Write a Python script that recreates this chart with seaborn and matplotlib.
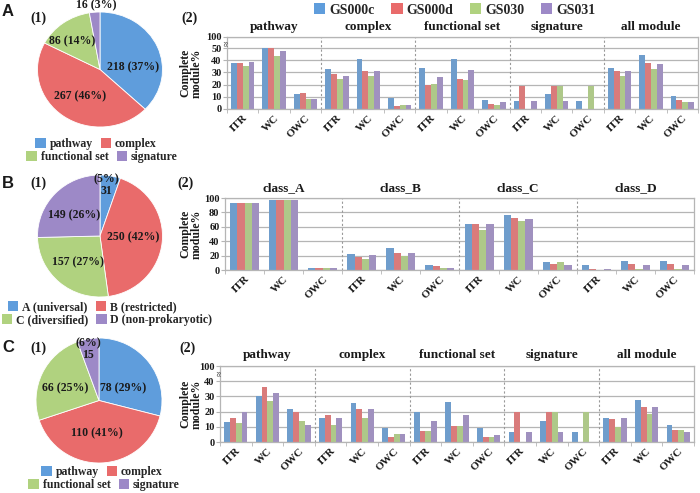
import numpy as np
import pandas as pd
import matplotlib
matplotlib.use("Agg")
import matplotlib.pyplot as plt
import matplotlib.transforms as mtransforms
from matplotlib.patches import Patch
import seaborn as sns

# ---------------- data ----------------
series = ["GS000c", "GS000d", "GS030", "GS031"]
clusters = ["ITR", "WC", "OWC"]

groups_a = ["pathway", "complex", "functional set", "signature", "all module"]
a_gs000c = [38, 50, 12, 32.5, 41, 9, 34, 41, 7, 6.5, 12.5, 6.5, 34, 44, 10.5]
a_gs000d = [37.5, 51, 13.5, 28.5, 31.5, 2.5, 20, 24.5, 4.5, 19, 19, 0, 31, 38, 7]
a_gs030 = [35, 43.5, 8.5, 24.5, 27.5, 3, 20.5, 23.5, 3.5, 0, 19, 19, 27, 33, 5.5]
a_gs031 = [39, 48, 8, 27.5, 31, 3.5, 26, 32, 6, 6.5, 6.5, 0, 31.5, 37, 5.5]

groups_b = ["class_A", "class_B", "class_C", "class_D"]
b_gs000c = [93, 97, 3, 22.5, 30.5, 7.5, 64.5, 77, 11.5, 7.5, 12.5, 12.5]
b_gs000d = [93, 97, 3, 18.5, 24, 5.5, 64.5, 72.5, 8, 1, 9, 9]
b_gs030 = [93, 97, 3, 15.5, 20, 3, 56, 67.5, 11.5, 0, 1.5, 1.5]
b_gs031 = [93, 97, 3, 20.5, 23.5, 3, 63.5, 71, 7.5, 1, 6.5, 6.5]

groups_c = ["pathway", "complex", "functional set", "signature", "all module"]
c_gs000c = [13, 30, 22, 16, 25.5, 9, 20, 26, 9, 6.5, 13.5, 6.5, 16, 27.5, 11.5]
c_gs000d = [15.5, 36, 20, 18, 22, 3.5, 7.5, 10.5, 3, 20, 20, 0, 15, 23, 8]
c_gs030 = [12.5, 27, 14, 11, 16, 5.5, 7.5, 10.5, 3, 0, 20, 20, 10, 18.5, 8]
c_gs031 = [20, 32, 11.5, 16, 22, 5.5, 13.5, 18, 4.5, 6.5, 6.5, 0, 16, 23, 6.5]

pie_a_labels = ["pathway", "complex", "functional set", "signature"]
pie_a_counts = [218, 267, 86, 16]
pie_a_pct = [37, 46, 14, 3]

pie_b_labels = ["A (universal)", "B (restricted)", "C (diversified)", "D (non-prokaryotic)"]
pie_b_counts = [31, 250, 157, 149]
pie_b_pct = [5, 42, 27, 26]

pie_c_labels = ["pathway", "complex", "functional set", "signature"]
pie_c_counts = [78, 110, 66, 15]
pie_c_pct = [29, 41, 25, 6]

# ---------------- style ----------------
sns.set_style("white")
plt.rcParams["font.family"] = ["Liberation Serif", "DejaVu Serif"]
plt.rcParams["font.weight"] = "bold"

colors = ["#5F9DDC", "#E96B6B", "#B0D27F", "#9D89C7"]
GRID = "#B5B5B5"
TXT = "#1a1a1a"

W, H = 700, 493
fig = plt.figure(figsize=(7.0, 4.93), dpi=100)


def fx(px):
    return px / W


def fy(py):
    return 1 - py / H


def rect(l, t, r, b):
    return [fx(l), fy(b), fx(r) - fx(l), (b - t) / H]


def bar_panel(box, groups, vals, yticks, ylabels, fwd=None, inv=None, ylab_x=-0.05,
              break_at=None):
    ax = fig.add_axes(box)
    keys = [f"{g}|{c}" for g in groups for c in clusters]
    rows = []
    for s, v in zip(series, vals):
        for k, val in zip(keys, v):
            rows.append({"key": k, "value": val, "series": s})
    df = pd.DataFrame(rows)
    sns.barplot(data=df, x="key", y="value", hue="series", order=keys,
                hue_order=series, palette=colors, width=0.74, errorbar=None,
                linewidth=0, legend=False, ax=ax)
    if fwd is not None:
        ax.set_yscale("function", functions=(fwd, inv))
    ax.set_ylim(0, 100)
    ax.set_xlim(-0.5, len(keys) - 0.5)
    ax.set_yticks(yticks)
    ax.set_yticklabels(ylabels, fontsize=7.5, fontweight="bold", color=TXT)
    ax.set_axisbelow(True)
    ax.yaxis.grid(True, color=GRID, lw=0.9)
    ax.xaxis.grid(False)
    ax.set_xticks(range(len(keys)))
    ax.set_xticklabels(clusters * len(groups), rotation=45, ha="right",
                       rotation_mode="anchor", fontsize=8, fontweight="bold", color=TXT)
    ax.set_xticks(np.arange(len(keys) + 1) - 0.5, minor=True)
    ax.tick_params(axis="x", which="major", length=0, pad=3)
    ax.tick_params(axis="x", which="minor", bottom=True, length=3, color=GRID)
    ax.tick_params(axis="y", left=True, length=3, color=GRID, pad=1)
    for sp in ax.spines.values():
        sp.set_color(GRID)
        sp.set_linewidth(0.9)
    ax.set_xlabel("")
    ax.set_ylabel("Complete\nmodule%", fontsize=8.5, fontweight="bold", color=TXT,
                  linespacing=0.9)
    ax.yaxis.set_label_coords(ylab_x, 0.5)
    trans = mtransforms.blended_transform_factory(ax.transData, ax.transAxes)
    for i, g in enumerate(groups):
        if i > 0:
            ax.axvline(i * 3 - 0.5, color="#999999", lw=0.8, ls=(0, (2, 2)))
        ax.text(i * 3 + 1, 1.06, g, transform=trans, ha="center", va="bottom",
                fontsize=9.5, fontweight="bold", color=TXT)
    if break_at is not None:
        ax.text(0.0, break_at, "≈", transform=mtransforms.blended_transform_factory(
            ax.transAxes, ax.transData), rotation=90, ha="center", va="center",
            fontsize=7, color="#555555")
    return ax


def pie_panel(box, counts, pcts, lab_pos):
    ax = fig.add_axes(box)
    wedges, _ = ax.pie(counts, colors=colors, startangle=90, counterclock=False,
                       wedgeprops=dict(linewidth=0.6, edgecolor="white"))
    ax.set_xlim(-1, 1)
    ax.set_ylim(-1, 1)
    ax.set_aspect("auto")
    for c, p, (x, y, two) in zip(counts, pcts, lab_pos):
        s = f"({p}%)\n{c}" if two else f"{c} ({p}%)"
        ax.text(x, y, s, ha="center", va="center", fontsize=8.5, fontweight="bold",
                color=TXT, linespacing=0.95)
    return ax


def pie_legend(labels, idx, cx, cy):
    handles = [Patch(facecolor=colors[i], edgecolor="none") for i in idx]
    fig.legend(handles, [labels[i] for i in idx], loc="center",
               bbox_to_anchor=(fx(cx), fy(cy)), ncol=2, frameon=False,
               handlelength=0.9, handleheight=0.9, handletextpad=0.3,
               columnspacing=0.7, borderpad=0, borderaxespad=0,
               prop={"size": 8.5, "weight": "bold"})


def fwd_a(y):
    y = np.asarray(y, dtype=float)
    return np.where(y <= 50, y, 50 + (y - 50) * 0.183)


def inv_a(t):
    t = np.asarray(t, dtype=float)
    return np.where(t <= 50, t, 50 + (t - 50) / 0.183)


def fwd_c(y):
    y = np.asarray(y, dtype=float)
    return np.where(y <= 40, y, 40 + (y - 40) / 6.0)


def inv_c(t):
    t = np.asarray(t, dtype=float)
    return np.where(t <= 40, t, 40 + (t - 40) * 6.0)


# ---------------- panel A ----------------
pie_panel(rect(37.5, 12, 162.5, 127), pie_a_counts, pie_a_pct,
          [(0.53, 0.03, False), (-0.32, -0.47, False), (-0.45, 0.49, False),
           (-0.06, 1.11, False)])
pie_legend(pie_a_labels, [0, 1], 96, 144)
pie_legend(pie_a_labels, [2, 3], 102, 157)
bar_panel(rect(227, 37, 698, 109), groups_a, [a_gs000c, a_gs000d, a_gs030, a_gs031],
          [0, 10, 20, 30, 40, 50, 100], ["0", "10", "20", "30", "40", "50", "100"],
          fwd_a, inv_a, ylab_x=-0.052, break_at=70)

# ---------------- panel B ----------------
pie_panel(rect(37.5, 175, 162.5, 297), pie_b_counts, pie_b_pct,
          [(0.11, 0.84, True), (0.53, -0.02, False), (-0.35, -0.43, False),
           (-0.42, 0.34, False)])
pie_legend(pie_b_labels, [0, 1], 92, 307)
pie_legend(pie_b_labels, [2, 3], 107, 320)
bar_panel(rect(225, 198, 694, 270), groups_b, [b_gs000c, b_gs000d, b_gs030, b_gs031],
          [0, 20, 40, 60, 80, 100], ["0", "20", "40", "60", "80", "100"],
          ylab_x=-0.047)

# ---------------- panel C ----------------
pie_panel(rect(36, 338, 162, 463), pie_c_counts, pie_c_pct,
          [(0.38, 0.19, False), (-0.03, -0.53, False), (-0.54, 0.19, False),
           (-0.17, 0.82, True)])
pie_legend(pie_c_labels, [0, 1], 102, 472)
pie_legend(pie_c_labels, [2, 3], 104, 485)
bar_panel(rect(220, 366, 694, 442), groups_c, [c_gs000c, c_gs000d, c_gs030, c_gs031],
          [0, 10, 20, 30, 40, 100], ["0", "10", "20", "30", "40", "100"],
          fwd_c, inv_c, ylab_x=-0.036, break_at=70)

# ---------------- top legend ----------------
fig.legend([Patch(facecolor=c, edgecolor="none") for c in colors], series,
           loc="center", bbox_to_anchor=(fx(455), fy(10)), ncol=4, frameon=False,
           handlelength=0.8, handleheight=0.8, handletextpad=0.3, columnspacing=1.2,
           borderpad=0, borderaxespad=0, prop={"size": 10, "weight": "bold"})

# ---------------- panel letters ----------------
for letter, y in [("A", 12), ("B", 183), ("C", 348)]:
    fig.text(fx(2), fy(y), letter, ha="left", va="center", fontsize=12,
             fontweight="bold", family=["Liberation Sans", "DejaVu Sans"], color=TXT)
for x1, x2, y in [(38, 190, 18), (38, 185, 183), (38, 187, 348)]:
    fig.text(fx(x1), fy(y), "(1)", ha="center", va="center", fontsize=10,
             fontweight="bold", color=TXT)
    fig.text(fx(x2), fy(y), "(2)", ha="center", va="center", fontsize=10,
             fontweight="bold", color=TXT)

fig.savefig("out.png", dpi=100)
